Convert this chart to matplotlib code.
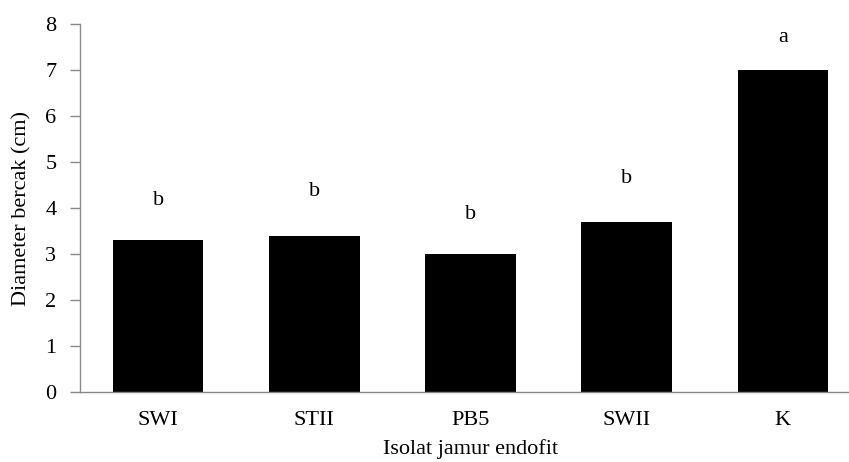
import matplotlib
matplotlib.use("Agg")
import matplotlib.pyplot as plt

isolates = ["SWI", "STII", "PB5", "SWII", "K"]
diameter = [3.3, 3.4, 3.0, 3.7, 7.0]
letters = ["b", "b", "b", "b", "a"]
letter_offset = [0.87, 0.95, 0.85, 0.95, 0.7]

plt.rcParams['font.family'] = ['Liberation Serif', 'DejaVu Serif']

fig = plt.figure(figsize=(8.49, 4.62), dpi=100)
ax = fig.add_axes([80/849, 1 - 392/462, 781/849, 368/462])

x = range(len(isolates))
ax.bar(x, diameter, width=0.58, color="black")
for i, (v, l, o) in enumerate(zip(diameter, letters, letter_offset)):
    ax.text(i, v + o, l, ha="center", va="center", fontsize=16)

ax.set_xlim(-0.5, len(isolates) - 0.5)
ax.set_ylim(0, 8)
ax.set_yticks(range(0, 9))
ax.set_xticks(list(x))
ax.set_xticklabels(isolates)
ax.tick_params(axis="x", length=0, pad=14, labelsize=16)
ax.tick_params(axis="y", length=7, color="#888888", width=1, pad=10, labelsize=16)

for s in ["top", "right"]:
    ax.spines[s].set_visible(False)
for s in ["left", "bottom"]:
    ax.spines[s].set_color("#888888")
    ax.spines[s].set_linewidth(1)

ax.set_xlabel("Isolat jamur endofit", fontsize=16, labelpad=6)
ax.set_ylabel("Diameter bercak (cm)", fontsize=16, labelpad=10)

fig.savefig("out.png", dpi=100)
